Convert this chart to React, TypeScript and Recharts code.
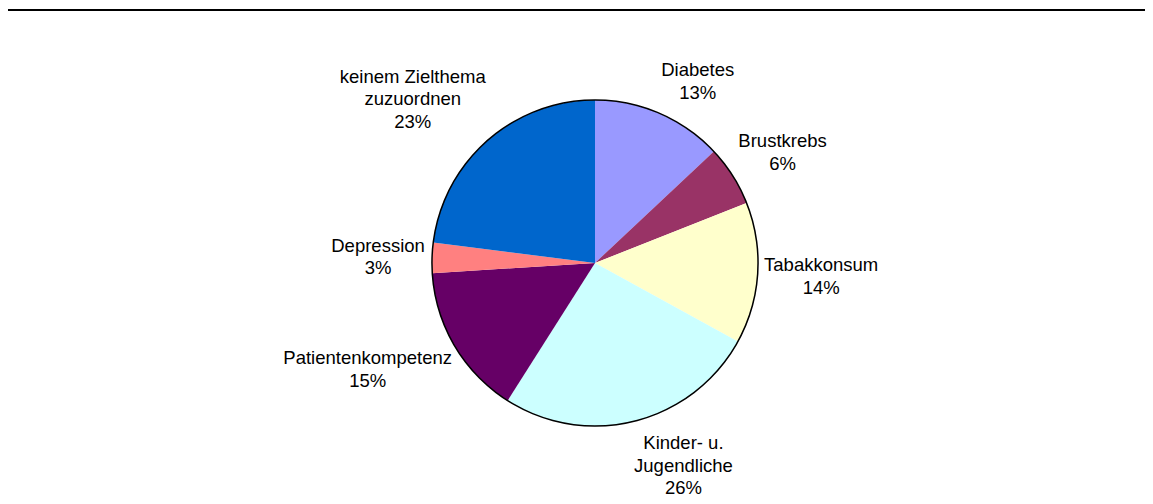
import { PieChart, Pie, Cell } from 'recharts';

const categories = [
  'Diabetes',
  'Brustkrebs',
  'Tabakkonsum',
  'Kinder- u.\nJugendliche',
  'Patientenkompetenz',
  'Depression',
  'keinem Zielthema\nzuzuordnen',
];
const shares = [13, 6, 14, 26, 15, 3, 23];
const sliceColors = ['#9999FF', '#993366', '#FFFFCC', '#CCFFFF', '#660066', '#FF8080', '#0066CC'];

const data = categories.map((name, i) => ({ name, value: shares[i] }));
const outline = [{ name: 'outline', value: 1 }];

const FONT = 'Arial, "Liberation Sans", sans-serif';
const FONT_SIZE = 18.5;
const LINE_H = 22.5;
const RADIAN = Math.PI / 180;

let ctx: CanvasRenderingContext2D | null = null;
const textWidth = (s: string) => {
  if (!ctx) {
    ctx = document.createElement('canvas').getContext('2d');
    if (ctx) ctx.font = `${FONT_SIZE}px ${FONT}`;
  }
  return ctx ? ctx.measureText(s).width : s.length * FONT_SIZE * 0.52;
};

const clamp = (v: number) => Math.max(-1, Math.min(1, v));

// Excel-like outside-end label: box pushed away from the pie along the mid angle
const renderLabel = (props: any) => {
  const { cx, cy, midAngle, outerRadius, percent } = props;
  const name: string = props.name ?? props.payload?.name ?? '';
  const lines = [...name.split('\n'), `${Math.round(percent * 100)}%`];
  const dx = Math.cos(-midAngle * RADIAN);
  const dy = Math.sin(-midAngle * RADIAN);
  const r = outerRadius + 11;
  const hw = Math.max(...lines.map(textWidth)) / 2;
  const hh = (lines.length * LINE_H) / 2;
  const bx = cx + r * dx + hw * clamp(dx * 4) * 0.92;
  const by = cy + r * dy + hh * clamp(dy * 1.5);
  return (
    <text
      key={name}
      textAnchor="middle"
      fill="#000"
      style={{ fontFamily: FONT, fontSize: FONT_SIZE }}
    >
      {lines.map((l, i) => (
        <tspan key={i} x={bx} y={by - hh + LINE_H * (i + 0.5) + 6.6}>
          {l}
        </tspan>
      ))}
    </text>
  );
};

const App = () => {
  return (
    <div style={{ position: 'relative', width: 1153, height: 504, margin: -8, background: '#fff' }}>
      <div
        style={{
          position: 'absolute',
          left: 6,
          top: 9,
          width: 1145,
          height: 493,
          borderTop: '2px solid #000',
          borderLeft: '2px solid #000',
        }}
      />
      <div style={{ position: 'absolute', left: 0, top: 0 }}>
        <PieChart width={1153} height={504} margin={{ top: 0, right: 0, bottom: 0, left: 0 }}>
          <Pie
            data={data}
            dataKey="value"
            nameKey="name"
            cx={595}
            cy={263}
            outerRadius={163}
            startAngle={90}
            endAngle={-270}
            stroke="none"
            label={renderLabel}
            labelLine={false}
            isAnimationActive={false}
          >
            {data.map((d, i) => (
              <Cell key={d.name} fill={sliceColors[i]} />
            ))}
          </Pie>
          <Pie
            data={outline}
            dataKey="value"
            cx={595}
            cy={263}
            innerRadius={162.3}
            outerRadius={163.8}
            startAngle={90}
            endAngle={-270}
            fill="#000"
            stroke="none"
            isAnimationActive={false}
          />
        </PieChart>
      </div>
    </div>
  );
};

export default App;
